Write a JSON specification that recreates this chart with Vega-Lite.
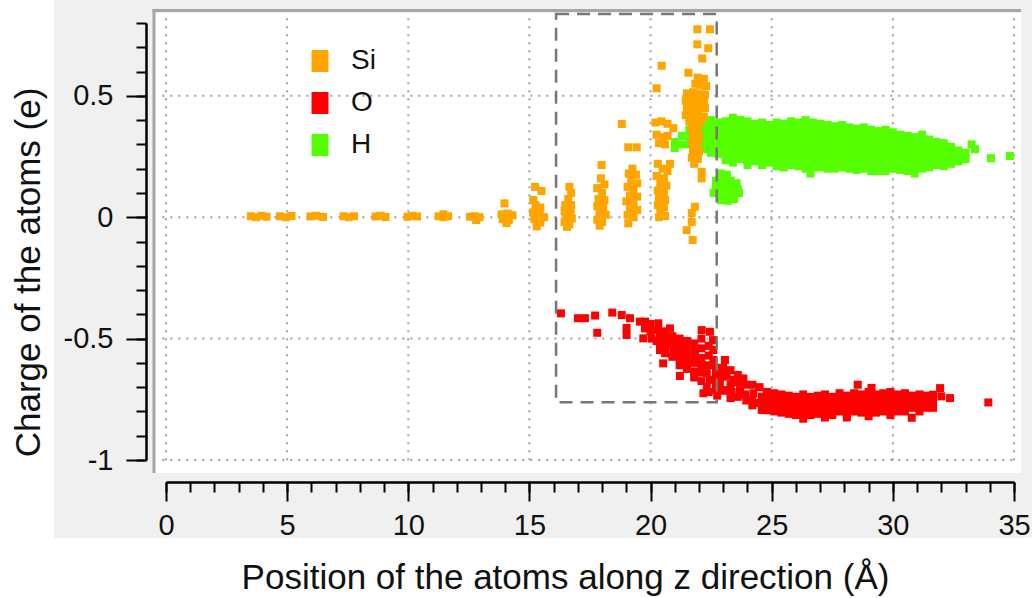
{
"$schema": "https://vega.github.io/schema/vega-lite/v6.json",
"width": 848, "height": 437,
"autosize": {"type": "none"},
"padding": {"left": 166, "top": 23, "right": 18, "bottom": 138},
"background": "white",
"config": {"view": {"stroke": null}},
"resolve": {"axis": {"x": "independent", "y": "independent"}},
"datasets": {
"one": [{}],
"gx": [{"v":0},{"v":5},{"v":10},{"v":15},{"v":20},{"v":25},{"v":30},{"v":35}],
"gy": [{"v":-1},{"v":-0.5},{"v":0},{"v":0.5}],
"box": [{"x1":16.1,"x2":22.73,"y1":0.837,"y2":-0.762}],
"si": [
{"z":3.5,"q":0.004},{"z":3.72,"q":0.0},{"z":3.94,"q":0.006},{"z":4.15,"q":0.002},
{"z":4.7,"q":0.004},{"z":4.95,"q":0.0},{"z":5.18,"q":0.005},
{"z":5.96,"q":0.003},{"z":6.2,"q":0.006},{"z":6.48,"q":0.001},
{"z":7.33,"q":0.004},{"z":7.55,"q":0.0},{"z":7.76,"q":0.004},
{"z":8.65,"q":0.003},{"z":8.85,"q":0.006},{"z":9.06,"q":0.001},
{"z":9.97,"q":0.002},{"z":10.17,"q":0.006},{"z":10.36,"q":0.003},
{"z":11.25,"q":0.004},{"z":11.45,"q":0.012},{"z":11.64,"q":0.004},{"z":11.45,"q":0.0},
{"z":12.55,"q":0.002},{"z":12.75,"q":0.004},{"z":12.94,"q":0.0},{"z":12.8,"q":-0.012},
{"z":13.97,"q":0.057},{"z":13.85,"q":0.012},{"z":14.1,"q":0.015},{"z":14.3,"q":0.008},{"z":13.9,"q":-0.008},{"z":14.15,"q":-0.012},{"z":14.05,"q":-0.024},
{"z":15.23,"q":0.125},{"z":15.5,"q":0.108},{"z":15.16,"q":0.071},{"z":15.25,"q":0.05},{"z":15.45,"q":0.04},{"z":15.15,"q":0.02},{"z":15.42,"q":0.015},{"z":15.6,"q":0.0},{"z":15.2,"q":-0.008},{"z":15.45,"q":-0.022},{"z":15.3,"q":-0.038},
{"z":16.65,"q":0.125},{"z":16.72,"q":0.1},{"z":16.6,"q":0.075},{"z":16.48,"q":0.05},{"z":16.72,"q":0.05},{"z":16.45,"q":0.025},{"z":16.7,"q":0.02},{"z":16.5,"q":0.0},{"z":16.75,"q":-0.005},{"z":16.45,"q":-0.02},{"z":16.65,"q":-0.03},{"z":16.55,"q":-0.04},
{"z":17.98,"q":0.215},{"z":17.95,"q":0.16},{"z":18.1,"q":0.135},{"z":17.8,"q":0.12},{"z":18.0,"q":0.1},{"z":17.85,"q":0.075},{"z":18.1,"q":0.07},{"z":17.8,"q":0.045},{"z":18.05,"q":0.04},{"z":17.9,"q":0.015},{"z":18.15,"q":0.01},{"z":17.8,"q":-0.01},{"z":18.0,"q":-0.02},{"z":17.9,"q":-0.035},
{"z":18.81,"q":0.384},{"z":19.08,"q":0.288},{"z":19.43,"q":0.288},{"z":19.25,"q":0.2},{"z":19.1,"q":0.18},{"z":19.4,"q":0.175},{"z":19.2,"q":0.15},{"z":19.45,"q":0.14},{"z":19.05,"q":0.125},{"z":19.3,"q":0.115},{"z":19.15,"q":0.09},{"z":19.45,"q":0.085},{"z":19.0,"q":0.065},{"z":19.3,"q":0.06},{"z":19.15,"q":0.035},{"z":19.45,"q":0.03},{"z":19.05,"q":0.01},{"z":19.3,"q":0.0},{"z":19.08,"q":-0.025},
{"z":20.46,"q":0.624},{"z":20.25,"q":0.531},{"z":20.2,"q":0.39},{"z":20.45,"q":0.395},{"z":20.7,"q":0.385},{"z":20.94,"q":0.367},{"z":20.25,"q":0.34},{"z":20.5,"q":0.33},{"z":20.7,"q":0.335},{"z":20.35,"q":0.305},{"z":20.6,"q":0.3},{"z":20.8,"q":0.22},{"z":20.3,"q":0.22},{"z":20.5,"q":0.2},{"z":20.7,"q":0.19},{"z":20.25,"q":0.17},{"z":20.55,"q":0.16},{"z":20.4,"q":0.14},{"z":20.65,"q":0.13},{"z":20.3,"q":0.11},{"z":20.55,"q":0.1},{"z":20.35,"q":0.08},{"z":20.6,"q":0.07},{"z":20.3,"q":0.05},{"z":20.55,"q":0.04},{"z":20.4,"q":0.02},{"z":20.6,"q":0.005},{"z":20.35,"q":0.0},
{"z":21.93,"q":0.774},{"z":22.45,"q":0.774},{"z":21.93,"q":0.712},{"z":22.38,"q":0.696},{"z":22.13,"q":0.654},{"z":21.56,"q":0.595},
{"z":21.95,"q":0.575},{"z":22.2,"q":0.57},{"z":22.05,"q":0.545},{"z":22.3,"q":0.54},{"z":21.85,"q":0.55},
{"z":21.5,"q":0.51},{"z":21.75,"q":0.515},{"z":22.0,"q":0.51},{"z":22.25,"q":0.505},
{"z":21.45,"q":0.48},{"z":21.7,"q":0.485},{"z":21.95,"q":0.48},{"z":22.2,"q":0.475},
{"z":21.5,"q":0.45},{"z":21.75,"q":0.455},{"z":22.0,"q":0.45},{"z":22.25,"q":0.45},
{"z":21.45,"q":0.42},{"z":21.7,"q":0.425},{"z":21.95,"q":0.42},{"z":22.2,"q":0.415},
{"z":21.6,"q":0.395},{"z":21.85,"q":0.39},{"z":22.05,"q":0.39},
{"z":21.7,"q":0.365},{"z":21.95,"q":0.36},{"z":21.75,"q":0.335},{"z":22.0,"q":0.33},
{"z":21.7,"q":0.305},{"z":21.95,"q":0.3},{"z":21.75,"q":0.275},{"z":22.0,"q":0.27},
{"z":21.7,"q":0.245},{"z":21.95,"q":0.24},{"z":21.8,"q":0.22},
{"z":22.11,"q":0.187},{"z":22.11,"q":0.16},
{"z":21.83,"q":0.043},{"z":21.7,"q":0.017},{"z":21.7,"q":-0.019},{"z":21.49,"q":-0.053},{"z":21.74,"q":-0.094}
],
"o": [
{"z":16.3,"q":-0.396},{"z":17.0,"q":-0.416},{"z":17.29,"q":-0.416},{"z":17.71,"q":-0.405},{"z":17.8,"q":-0.476},{"z":18.42,"q":-0.393},{"z":18.81,"q":-0.403},{"z":19.15,"q":-0.416},{"z":19.01,"q":-0.456},{"z":19.01,"q":-0.485},{"z":19.56,"q":-0.43},{"z":19.77,"q":-0.43},{"z":19.7,"q":-0.499},{"z":19.77,"q":-0.458},
{"z":20.0,"q":-0.44},{"z":20.0,"q":-0.47},{"z":20.05,"q":-0.5},{"z":20.32,"q":-0.437},{"z":20.3,"q":-0.465},{"z":20.25,"q":-0.51},
{"z":20.39,"q":-0.492},{"z":20.39,"q":-0.518},{"z":20.39,"q":-0.547},{"z":20.6,"q":-0.47},{"z":20.6,"q":-0.5},{"z":20.62,"q":-0.53},{"z":20.6,"q":-0.56},
{"z":20.8,"q":-0.458},{"z":20.52,"q":-0.602},{"z":20.9,"q":-0.49},{"z":20.9,"q":-0.52},{"z":20.94,"q":-0.547},{"z":20.9,"q":-0.575},
{"z":21.21,"q":-0.588},{"z":21.21,"q":-0.654},{"z":21.2,"q":-0.5},{"z":21.2,"q":-0.53},{"z":21.2,"q":-0.56},{"z":21.2,"q":-0.61},
{"z":21.49,"q":-0.533},{"z":21.49,"q":-0.575},{"z":21.5,"q":-0.51},{"z":21.5,"q":-0.55},{"z":21.5,"q":-0.6},{"z":21.5,"q":-0.625},
{"z":21.83,"q":-0.547},{"z":21.8,"q":-0.52},{"z":21.8,"q":-0.575},{"z":21.8,"q":-0.6},{"z":21.8,"q":-0.635},{"z":21.8,"q":-0.66},
{"z":22.11,"q":-0.465},{"z":22.11,"q":-0.609},{"z":22.1,"q":-0.5},{"z":22.1,"q":-0.54},{"z":22.1,"q":-0.58},{"z":22.1,"q":-0.64},{"z":22.1,"q":-0.675},{"z":22.18,"q":-0.725},
{"z":22.45,"q":-0.472},{"z":22.32,"q":-0.642},{"z":22.32,"q":-0.698},{"z":22.4,"q":-0.53},{"z":22.4,"q":-0.57},{"z":22.4,"q":-0.61},{"z":22.45,"q":-0.67},{"z":22.4,"q":-0.72},
{"z":22.58,"q":-0.506},{"z":22.59,"q":-0.547},{"z":22.59,"q":-0.588},{"z":22.7,"q":-0.62},{"z":22.7,"q":-0.65},{"z":22.7,"q":-0.68},{"z":22.7,"q":-0.71},{"z":22.75,"q":-0.735},
{"z":22.86,"q":-0.683},{"z":23.07,"q":-0.588},{"z":23.0,"q":-0.62},{"z":23.0,"q":-0.65},{"z":23.0,"q":-0.715},{"z":23.14,"q":-0.657},{"z":23.14,"q":-0.712},
{"z":23.3,"q":-0.63},{"z":23.3,"q":-0.69},{"z":23.41,"q":-0.67},{"z":23.35,"q":-0.72},{"z":23.3,"q":-0.745},
{"z":23.6,"q":-0.65},{"z":23.6,"q":-0.68},{"z":23.69,"q":-0.712},{"z":23.6,"q":-0.74},{"z":23.83,"q":-0.664},
{"z":23.9,"q":-0.69},{"z":23.9,"q":-0.73},{"z":23.95,"q":-0.755},{"z":24.24,"q":-0.725},{"z":24.2,"q":-0.69},{"z":24.2,"q":-0.75},{"z":24.2,"q":-0.775},
{"z":24.5,"q":-0.7},{"z":24.59,"q":-0.739},{"z":24.59,"q":-0.794},{"z":24.5,"q":-0.765},
{"z":24.8,"q":-0.72},{"z":24.8,"q":-0.745},{"z":24.8,"q":-0.77},{"z":24.8,"q":-0.795},
{"z":25.1,"q":-0.725},{"z":25.1,"q":-0.75},{"z":25.1,"q":-0.775},{"z":25.1,"q":-0.8},
{"z":25.4,"q":-0.73},{"z":25.4,"q":-0.755},{"z":25.4,"q":-0.78},{"z":25.4,"q":-0.805},
{"z":25.7,"q":-0.735},{"z":25.7,"q":-0.76},{"z":25.7,"q":-0.785},{"z":25.7,"q":-0.81},
{"z":26.0,"q":-0.74},{"z":26.0,"q":-0.765},{"z":26.0,"q":-0.79},{"z":26.0,"q":-0.815},
{"z":26.3,"q":-0.73},{"z":26.3,"q":-0.755},{"z":26.3,"q":-0.78},{"z":26.3,"q":-0.805},{"z":26.3,"q":-0.83},
{"z":26.6,"q":-0.74},{"z":26.6,"q":-0.765},{"z":26.6,"q":-0.79},{"z":26.6,"q":-0.815},
{"z":26.9,"q":-0.735},{"z":26.9,"q":-0.76},{"z":26.9,"q":-0.785},{"z":26.9,"q":-0.81},
{"z":27.2,"q":-0.73},{"z":27.2,"q":-0.755},{"z":27.2,"q":-0.78},{"z":27.2,"q":-0.805},{"z":27.2,"q":-0.825},
{"z":27.5,"q":-0.74},{"z":27.5,"q":-0.765},{"z":27.5,"q":-0.79},{"z":27.5,"q":-0.815},
{"z":27.8,"q":-0.725},{"z":27.8,"q":-0.75},{"z":27.8,"q":-0.775},{"z":27.8,"q":-0.8},
{"z":28.1,"q":-0.735},{"z":28.1,"q":-0.76},{"z":28.1,"q":-0.785},{"z":28.1,"q":-0.81},{"z":28.1,"q":-0.825},
{"z":28.4,"q":-0.725},{"z":28.4,"q":-0.75},{"z":28.4,"q":-0.775},{"z":28.4,"q":-0.8},
{"z":28.55,"q":-0.69},{"z":29.12,"q":-0.703},
{"z":28.7,"q":-0.73},{"z":28.7,"q":-0.755},{"z":28.7,"q":-0.78},{"z":28.7,"q":-0.805},
{"z":29.0,"q":-0.72},{"z":29.0,"q":-0.745},{"z":29.0,"q":-0.77},{"z":29.0,"q":-0.795},{"z":29.0,"q":-0.82},
{"z":29.3,"q":-0.73},{"z":29.3,"q":-0.755},{"z":29.3,"q":-0.78},{"z":29.3,"q":-0.805},
{"z":29.6,"q":-0.725},{"z":29.6,"q":-0.75},{"z":29.6,"q":-0.775},{"z":29.6,"q":-0.8},
{"z":29.9,"q":-0.72},{"z":29.9,"q":-0.745},{"z":29.9,"q":-0.77},{"z":29.9,"q":-0.795},{"z":29.9,"q":-0.815},
{"z":30.2,"q":-0.73},{"z":30.2,"q":-0.755},{"z":30.2,"q":-0.78},{"z":30.2,"q":-0.8},
{"z":30.5,"q":-0.725},{"z":30.5,"q":-0.75},{"z":30.5,"q":-0.775},{"z":30.5,"q":-0.8},
{"z":30.8,"q":-0.735},{"z":30.8,"q":-0.76},{"z":30.8,"q":-0.785},{"z":30.78,"q":-0.826},
{"z":31.1,"q":-0.73},{"z":31.1,"q":-0.755},{"z":31.1,"q":-0.78},{"z":31.1,"q":-0.8},
{"z":31.4,"q":-0.735},{"z":31.4,"q":-0.76},{"z":31.4,"q":-0.785},
{"z":31.66,"q":-0.731},{"z":31.66,"q":-0.76},{"z":31.66,"q":-0.785},
{"z":31.95,"q":-0.704},{"z":32.0,"q":-0.738},{"z":32.36,"q":-0.745},{"z":33.94,"q":-0.763}
],
"h": [
{"z":21.0,"q":0.31},{"z":21.0,"q":0.285},
{"z":21.3,"q":0.335},{"z":21.3,"q":0.3},
{"z":21.6,"q":0.36},{"z":21.6,"q":0.33},{"z":21.6,"q":0.3},
{"z":21.9,"q":0.37},{"z":21.9,"q":0.345},{"z":21.9,"q":0.315},{"z":21.9,"q":0.29},
{"z":22.2,"q":0.39},{"z":22.2,"q":0.36},{"z":22.2,"q":0.335},{"z":22.2,"q":0.31},{"z":22.2,"q":0.28},
{"z":22.5,"q":0.4},{"z":22.5,"q":0.37},{"z":22.5,"q":0.345},{"z":22.5,"q":0.315},{"z":22.5,"q":0.29},{"z":22.5,"q":0.265},
{"z":22.8,"q":0.39},{"z":22.8,"q":0.365},{"z":22.8,"q":0.34},{"z":22.8,"q":0.31},{"z":22.8,"q":0.285},{"z":22.8,"q":0.26},
{"z":23.1,"q":0.395},{"z":23.1,"q":0.37},{"z":23.1,"q":0.34},{"z":23.1,"q":0.315},{"z":23.1,"q":0.29},{"z":23.1,"q":0.26},{"z":23.1,"q":0.235},
{"z":23.4,"q":0.41},{"z":23.4,"q":0.385},{"z":23.4,"q":0.355},{"z":23.4,"q":0.33},{"z":23.4,"q":0.3},{"z":23.4,"q":0.275},{"z":23.4,"q":0.25},{"z":23.4,"q":0.225},
{"z":23.7,"q":0.4},{"z":23.7,"q":0.375},{"z":23.7,"q":0.35},{"z":23.7,"q":0.32},{"z":23.7,"q":0.295},{"z":23.7,"q":0.265},{"z":23.7,"q":0.24},
{"z":24.0,"q":0.395},{"z":24.0,"q":0.37},{"z":24.0,"q":0.34},{"z":24.0,"q":0.315},{"z":24.0,"q":0.29},{"z":24.0,"q":0.26},{"z":24.0,"q":0.235},{"z":24.0,"q":0.215},
{"z":24.3,"q":0.385},{"z":24.3,"q":0.36},{"z":24.3,"q":0.335},{"z":24.3,"q":0.31},{"z":24.3,"q":0.28},{"z":24.3,"q":0.255},{"z":24.3,"q":0.23},
{"z":24.6,"q":0.39},{"z":24.6,"q":0.365},{"z":24.6,"q":0.34},{"z":24.6,"q":0.31},{"z":24.6,"q":0.285},{"z":24.6,"q":0.26},{"z":24.6,"q":0.235},{"z":24.6,"q":0.215},
{"z":24.9,"q":0.38},{"z":24.9,"q":0.355},{"z":24.9,"q":0.33},{"z":24.9,"q":0.305},{"z":24.9,"q":0.28},{"z":24.9,"q":0.25},{"z":24.9,"q":0.225},
{"z":25.2,"q":0.39},{"z":25.2,"q":0.365},{"z":25.2,"q":0.34},{"z":25.2,"q":0.31},{"z":25.2,"q":0.285},{"z":25.2,"q":0.26},{"z":25.2,"q":0.235},{"z":25.2,"q":0.21},
{"z":25.5,"q":0.385},{"z":25.5,"q":0.36},{"z":25.5,"q":0.33},{"z":25.5,"q":0.305},{"z":25.5,"q":0.28},{"z":25.5,"q":0.255},{"z":25.5,"q":0.23},{"z":25.5,"q":0.205},
{"z":25.8,"q":0.395},{"z":25.8,"q":0.37},{"z":25.8,"q":0.345},{"z":25.8,"q":0.32},{"z":25.8,"q":0.29},{"z":25.8,"q":0.265},{"z":25.8,"q":0.24},{"z":25.8,"q":0.215},
{"z":26.1,"q":0.39},{"z":26.1,"q":0.365},{"z":26.1,"q":0.335},{"z":26.1,"q":0.31},{"z":26.1,"q":0.285},{"z":26.1,"q":0.26},{"z":26.1,"q":0.235},{"z":26.1,"q":0.21},
{"z":26.4,"q":0.4},{"z":26.4,"q":0.375},{"z":26.4,"q":0.35},{"z":26.4,"q":0.32},{"z":26.4,"q":0.295},{"z":26.4,"q":0.27},{"z":26.4,"q":0.245},{"z":26.4,"q":0.22},{"z":26.4,"q":0.2},
{"z":26.7,"q":0.39},{"z":26.7,"q":0.36},{"z":26.7,"q":0.335},{"z":26.7,"q":0.31},{"z":26.7,"q":0.28},{"z":26.7,"q":0.255},{"z":26.7,"q":0.23},{"z":26.7,"q":0.205},{"z":26.6,"q":0.18},
{"z":27.0,"q":0.385},{"z":27.0,"q":0.36},{"z":27.0,"q":0.33},{"z":27.0,"q":0.305},{"z":27.0,"q":0.28},{"z":27.0,"q":0.255},{"z":27.0,"q":0.23},{"z":27.0,"q":0.205},
{"z":27.3,"q":0.38},{"z":27.3,"q":0.355},{"z":27.3,"q":0.33},{"z":27.3,"q":0.3},{"z":27.3,"q":0.275},{"z":27.3,"q":0.25},{"z":27.3,"q":0.225},{"z":27.3,"q":0.2},
{"z":27.6,"q":0.375},{"z":27.6,"q":0.35},{"z":27.6,"q":0.325},{"z":27.6,"q":0.3},{"z":27.6,"q":0.27},{"z":27.6,"q":0.245},{"z":27.6,"q":0.22},{"z":27.6,"q":0.2},
{"z":27.9,"q":0.38},{"z":27.9,"q":0.355},{"z":27.9,"q":0.33},{"z":27.9,"q":0.3},{"z":27.9,"q":0.275},{"z":27.9,"q":0.25},{"z":27.9,"q":0.225},{"z":27.9,"q":0.205},
{"z":28.2,"q":0.37},{"z":28.2,"q":0.345},{"z":28.2,"q":0.32},{"z":28.2,"q":0.295},{"z":28.2,"q":0.27},{"z":28.2,"q":0.245},{"z":28.2,"q":0.22},{"z":28.2,"q":0.2},
{"z":28.5,"q":0.365},{"z":28.5,"q":0.34},{"z":28.5,"q":0.315},{"z":28.5,"q":0.29},{"z":28.5,"q":0.265},{"z":28.5,"q":0.24},{"z":28.5,"q":0.215},{"z":28.5,"q":0.195},
{"z":28.8,"q":0.37},{"z":28.8,"q":0.345},{"z":28.8,"q":0.32},{"z":28.8,"q":0.295},{"z":28.8,"q":0.27},{"z":28.8,"q":0.245},{"z":28.8,"q":0.22},{"z":28.8,"q":0.2},
{"z":29.1,"q":0.36},{"z":29.1,"q":0.335},{"z":29.1,"q":0.31},{"z":29.1,"q":0.285},{"z":29.1,"q":0.26},{"z":29.1,"q":0.235},{"z":29.1,"q":0.21},{"z":29.1,"q":0.19},
{"z":29.4,"q":0.355},{"z":29.4,"q":0.33},{"z":29.4,"q":0.305},{"z":29.4,"q":0.28},{"z":29.4,"q":0.255},{"z":29.4,"q":0.23},{"z":29.4,"q":0.205},{"z":29.4,"q":0.19},
{"z":29.7,"q":0.36},{"z":29.7,"q":0.335},{"z":29.7,"q":0.31},{"z":29.7,"q":0.285},{"z":29.7,"q":0.26},{"z":29.7,"q":0.235},{"z":29.7,"q":0.21},{"z":29.7,"q":0.19},
{"z":30.0,"q":0.35},{"z":30.0,"q":0.325},{"z":30.0,"q":0.3},{"z":30.0,"q":0.275},{"z":30.0,"q":0.25},{"z":30.0,"q":0.225},{"z":30.0,"q":0.2},
{"z":30.3,"q":0.34},{"z":30.3,"q":0.315},{"z":30.3,"q":0.29},{"z":30.3,"q":0.265},{"z":30.3,"q":0.24},{"z":30.3,"q":0.215},{"z":30.3,"q":0.195},
{"z":30.6,"q":0.335},{"z":30.6,"q":0.31},{"z":30.6,"q":0.285},{"z":30.6,"q":0.26},{"z":30.6,"q":0.235},{"z":30.6,"q":0.21},{"z":30.6,"q":0.19},
{"z":30.9,"q":0.33},{"z":30.9,"q":0.305},{"z":30.9,"q":0.28},{"z":30.9,"q":0.255},{"z":30.9,"q":0.23},{"z":30.9,"q":0.205},{"z":30.9,"q":0.18},
{"z":31.2,"q":0.34},{"z":31.2,"q":0.315},{"z":31.2,"q":0.29},{"z":31.2,"q":0.265},{"z":31.2,"q":0.24},{"z":31.2,"q":0.215},{"z":31.2,"q":0.2},
{"z":31.5,"q":0.32},{"z":31.5,"q":0.295},{"z":31.5,"q":0.27},{"z":31.5,"q":0.245},{"z":31.5,"q":0.22},{"z":31.5,"q":0.205},
{"z":31.8,"q":0.31},{"z":31.8,"q":0.285},{"z":31.8,"q":0.26},{"z":31.8,"q":0.235},{"z":31.8,"q":0.215},
{"z":32.1,"q":0.305},{"z":32.1,"q":0.28},{"z":32.1,"q":0.255},{"z":32.1,"q":0.23},{"z":32.1,"q":0.21},
{"z":32.4,"q":0.29},{"z":32.4,"q":0.265},{"z":32.4,"q":0.24},{"z":32.4,"q":0.22},
{"z":32.7,"q":0.275},{"z":32.7,"q":0.25},{"z":32.7,"q":0.23},
{"z":33.0,"q":0.265},{"z":33.0,"q":0.24},
{"z":33.25,"q":0.3},{"z":33.39,"q":0.28},{"z":34.05,"q":0.243},{"z":34.83,"q":0.252},
{"z":22.9,"q":0.18},{"z":23.15,"q":0.175},
{"z":22.7,"q":0.15},{"z":23.0,"q":0.15},{"z":23.3,"q":0.15},{"z":23.55,"q":0.14},
{"z":22.7,"q":0.12},{"z":23.0,"q":0.12},{"z":23.3,"q":0.12},{"z":23.6,"q":0.115},
{"z":22.6,"q":0.1},{"z":22.85,"q":0.095},{"z":23.1,"q":0.09},{"z":23.4,"q":0.095},{"z":23.65,"q":0.1},
{"z":22.9,"q":0.07},{"z":23.2,"q":0.068},{"z":23.45,"q":0.075}
]
},
"layer": [
{
"data": {"name": "one"},
"mark": {"type": "rect", "color": "#f0f0f0"},
"encoding": {
"x": {"datum": -4.62, "type": "quantitative", "axis": null}, "x2": {"datum": 35.74},
"y": {"datum": 0.9, "type": "quantitative", "axis": null}, "y2": {"datum": -1.321}
}
},
{
"data": {"name": "one"},
"mark": {"type": "rect", "color": "white"},
"encoding": {
"x": {"datum": -0.45, "type": "quantitative", "axis": null}, "x2": {"datum": 35.29},
"y": {"datum": 0.84, "type": "quantitative", "axis": null}, "y2": {"datum": -1.054}
}
},
{
"data": {"name": "one"},
"mark": {"type": "rule", "color": "#a6a6a6", "strokeWidth": 3},
"encoding": {
"x": {"datum": -0.56, "type": "quantitative", "axis": null}, "x2": {"datum": 35.29},
"y": {"datum": 0.851, "type": "quantitative", "axis": null}
}
},
{
"data": {"name": "one"},
"mark": {"type": "rule", "color": "#a6a6a6", "strokeWidth": 3},
"encoding": {
"x": {"datum": -0.495, "type": "quantitative", "axis": null},
"y": {"datum": 0.857, "type": "quantitative", "axis": null}, "y2": {"datum": -1.054}
}
},
{
"data": {"name": "gx"},
"mark": {"type": "rule", "color": "#a0a0a0", "strokeWidth": 2, "strokeDash": [2, 6]},
"encoding": {
"x": {"field": "v", "type": "quantitative", "axis": null},
"y": {"datum": 0.82, "type": "quantitative", "axis": null}, "y2": {"datum": -1.02}
}
},
{
"data": {"name": "gy"},
"mark": {"type": "rule", "color": "#a0a0a0", "strokeWidth": 2, "strokeDash": [2, 6]},
"encoding": {
"y": {"field": "v", "type": "quantitative", "axis": null},
"x": {"datum": -0.15, "type": "quantitative", "axis": null}, "x2": {"datum": 35.12}
}
},
{
"data": {"name": "h"},
"mark": {"type": "square", "size": 64, "opacity": 1},
"encoding": {
"x": {"field": "z", "type": "quantitative", "axis": null},
"y": {"field": "q", "type": "quantitative", "axis": null},
"color": {"datum": "H", "type": "nominal",
 "scale": {"domain": ["Si", "O", "H"], "range": ["#ffa500", "#ff0000", "#55ff00"]},
 "legend": {"orient": "none", "legendX": 140, "legendY": 24, "title": null, "padding": 0,
  "symbolType": "M-0.77,-1H0.77V1H-0.77Z", "symbolSize": 484, "symbolStrokeWidth": 0, "symbolOpacity": 1,
  "labelFont": "Liberation Sans", "labelFontSize": 28, "labelColor": "#111", "labelOffset": 17, "rowPadding": 14}}
}
},
{
"data": {"name": "o"},
"mark": {"type": "square", "size": 64, "opacity": 1},
"encoding": {
"x": {"field": "z", "type": "quantitative",
 "axis": {"orient": "bottom", "values": [0,1,2,3,4,5,6,7,8,9,10,11,12,13,14,15,16,17,18,19,20,21,22,23,24,25,26,27,28,29,30,31,32,33,34,35],
  "labels": false, "title": null, "tickSize": 10, "offset": 22, "grid": false,
  "domainColor": "black", "domainWidth": 2, "tickColor": "black", "tickWidth": 2, "zindex": 1}},
"y": {"field": "q", "type": "quantitative",
 "axis": {"orient": "left", "values": [-1,-0.9,-0.8,-0.7,-0.6,-0.5,-0.4,-0.3,-0.2,-0.1,0,0.1,0.2,0.3,0.4,0.5,0.6,0.7,0.8],
  "labels": false, "title": null, "tickSize": 10, "offset": 20, "grid": false,
  "domainColor": "black", "domainWidth": 2, "tickColor": "black", "tickWidth": 2, "zindex": 1}},
"color": {"datum": "O", "type": "nominal"}
}
},
{
"data": {"name": "si"},
"mark": {"type": "square", "size": 64, "opacity": 1},
"encoding": {
"x": {"field": "z", "type": "quantitative", "scale": {"domain": [0, 35], "nice": false, "zero": false},
 "axis": {"orient": "bottom", "title": "Position of the atoms along z direction (Å)", "values": [0,5,10,15,20,25,30,35],
  "labelExpr": "'' + datum.value", "tickSize": 19,
  "offset": 22, "grid": false, "domainColor": "black", "domainWidth": 2, "tickColor": "black", "tickWidth": 2,
  "labelFont": "Liberation Sans", "labelFontSize": 29, "labelColor": "#111", "labelPadding": 10, "labelFlush": false, "labelOverlap": false,
  "titleFont": "Liberation Sans", "titleFontSize": 35, "titleFontWeight": "normal", "titleColor": "#111",
  "titleX": 399, "titleY": 106, "titleBaseline": "alphabetic", "titleAnchor": "middle", "titleAlign": "center", "zindex": 1}},
"y": {"field": "q", "type": "quantitative", "scale": {"domain": [-1, 0.8], "nice": false, "zero": false},
 "axis": {"orient": "left", "title": "Charge of the atoms (e)", "values": [-1,-0.5,0,0.5],
  "labelExpr": "'' + datum.value", "tickSize": 20,
  "offset": 20, "grid": false, "domainColor": "black", "domainWidth": 2, "tickColor": "black", "tickWidth": 2,
  "labelFont": "Liberation Sans", "labelFontSize": 29, "labelColor": "#111", "labelPadding": 13, "labelOverlap": false,
  "titleFont": "Liberation Sans", "titleFontSize": 35, "titleFontWeight": "normal", "titleColor": "#111",
  "titleX": -107, "titleY": 249, "titleBaseline": "alphabetic", "titleAngle": 270, "titleAlign": "center", "zindex": 1}},
"color": {"datum": "Si", "type": "nominal"}
}
},
{
"data": {"name": "box"},
"mark": {"type": "rect", "filled": false, "stroke": "#777777", "strokeWidth": 2.5, "strokeDash": [13, 8]},
"encoding": {
"x": {"field": "x1", "type": "quantitative", "axis": null}, "x2": {"field": "x2"},
"y": {"field": "y1", "type": "quantitative", "axis": null}, "y2": {"field": "y2"}
}
}
]
}
